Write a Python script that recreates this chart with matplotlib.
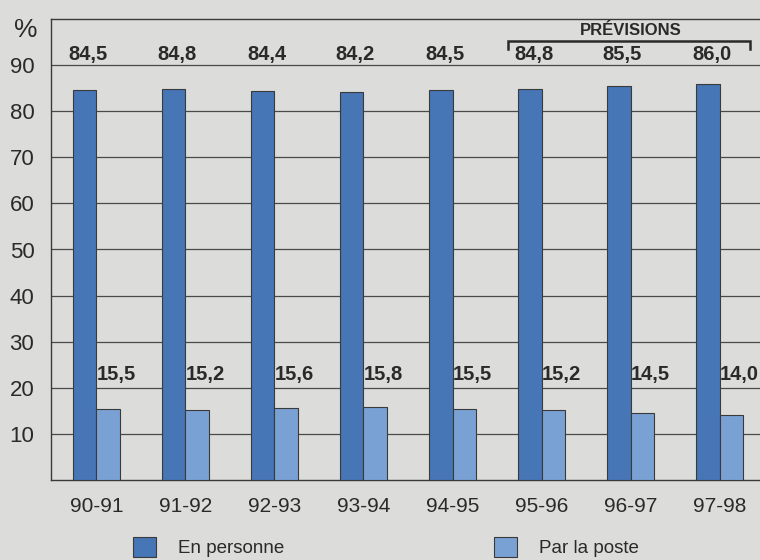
import matplotlib.pyplot as plt
import numpy as np

# data
years = ['90-91', '91-92', '92-93', '93-94', '94-95', '95-96', '96-97', '97-98']
en_personne = [84.5, 84.8, 84.4, 84.2, 84.5, 84.8, 85.5, 86.0]
par_la_poste = [15.5, 15.2, 15.6, 15.8, 15.5, 15.2, 14.5, 14.0]
yticks = [10, 20, 30, 40, 50, 60, 70, 80, 90]
forecast_from = 5  # index of first forecast year

BG = '#dcdcda'
DARK = '#4676b6'
LIGHT = '#7aa1d3'
EDGE = '#3a3a3a'
INK = '#2a2a2a'

plt.rcParams['font.family'] = ['Liberation Sans', 'DejaVu Sans']

fig = plt.figure(figsize=(7.6, 5.6), dpi=100, facecolor=BG)
ax = fig.add_axes([51 / 760, 80 / 560, 714 / 760, 461 / 560], facecolor=BG)

x = np.arange(len(years))
w = 0.26
b1 = ax.bar(x - w / 2, en_personne, w, color=DARK, edgecolor=EDGE, linewidth=0.8,
            zorder=3, label='En personne')
b2 = ax.bar(x + w / 2, par_la_poste, w, color=LIGHT, edgecolor=EDGE, linewidth=0.8,
            zorder=3, label='Par la poste')

# value labels, fixed rows above the bars
for i, (a, b) in enumerate(zip(en_personne, par_la_poste)):
    ax.text(i - w / 2 + 0.04, 92.2, f'{a:.1f}'.replace('.', ','), ha='center', va='center',
            fontsize=14.5, fontweight='bold', color=INK)
    ax.text(i + 0.0, 22.8, f'{b:.1f}'.replace('.', ','), ha='left', va='center',
            fontsize=14.5, fontweight='bold', color=INK)

# forecast bracket
x0, x1, yb = forecast_from - 0.375, len(years) - 0.66, 95.2
ax.plot([x0, x0, x1, x1], [93.6, yb, yb, 93.6], color=INK, lw=1.8,
        solid_joinstyle='miter', clip_on=False, zorder=4)
ax.text((x0 + x1) / 2 + 0.02, 97.6, 'PRÉVISIONS', ha='center', va='center',
        fontsize=12, fontweight='bold', color=INK)

ax.set_xlim(-0.51, len(years) - 0.49)
ax.set_ylim(0, 100)
ax.set_yticks(yticks)
ax.set_xticks(x)
ax.set_xticklabels(years)
ax.yaxis.grid(True, color='#4a4a4a', linewidth=0.9, zorder=0)
ax.set_axisbelow(True)
ax.tick_params(axis='both', length=0, colors=INK)
ax.tick_params(axis='y', pad=12, labelsize=16)
ax.tick_params(axis='x', pad=12, labelsize=15)
for side in ['left', 'top', 'bottom', 'right']:
    ax.spines[side].set_color('#3a3a3a')
    ax.spines[side].set_linewidth(1.0)

fig.text(26 / 760, 1 - 30 / 560, '%', ha='center', va='center', fontsize=19, color=INK)

fig.legend(handles=[b1, b2], loc='center left', bbox_to_anchor=(116 / 760, 1 - 547 / 560),
           ncol=2, frameon=False, fontsize=13.5, handlelength=1.23, handleheight=1.23,
           handletextpad=1.17, columnspacing=11.2, labelcolor=INK)

fig.savefig('out.png', dpi=100, facecolor=BG)
